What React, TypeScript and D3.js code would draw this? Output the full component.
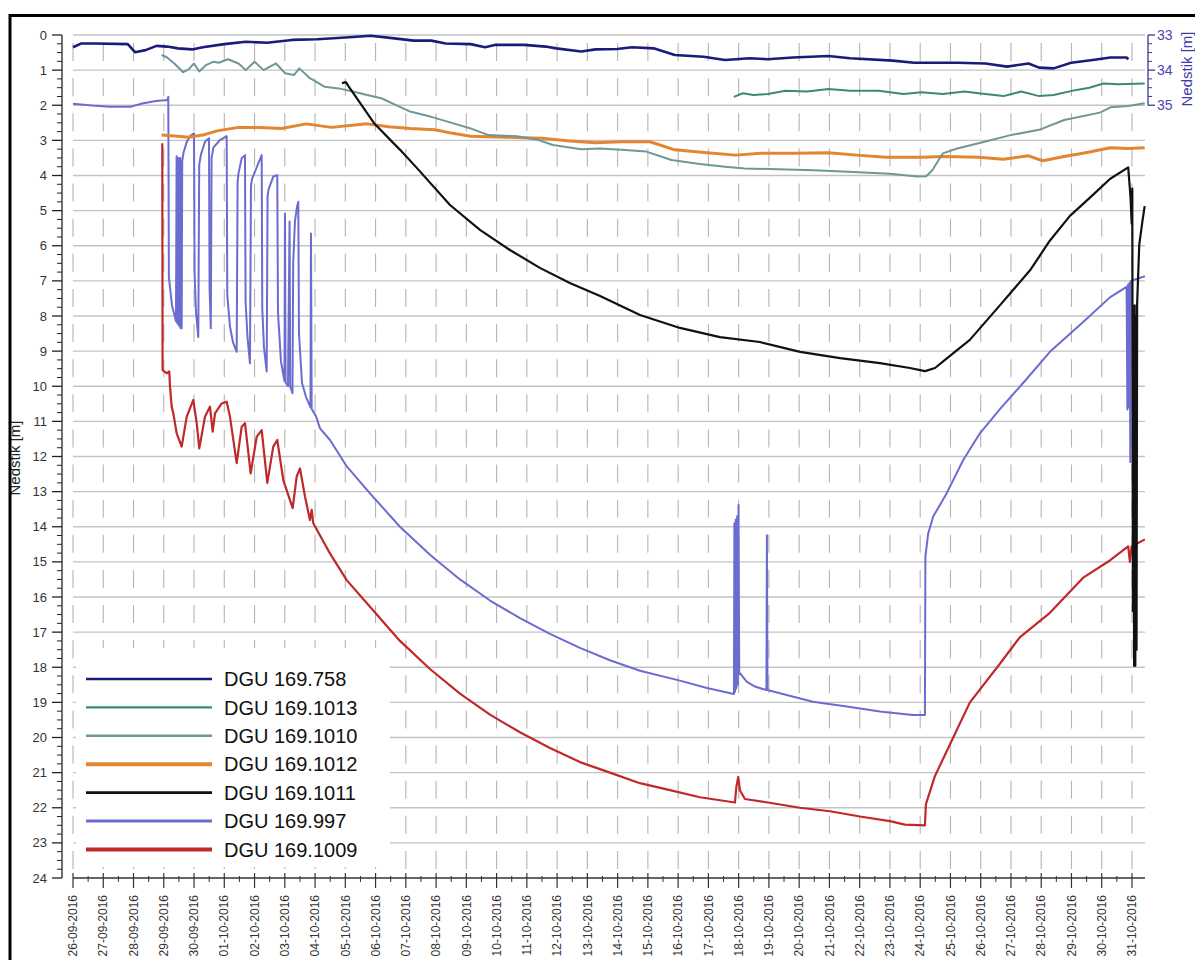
import React from "react";
import * as d3 from "d3";

// [days since 26-09-2016 00:00, value]
type Pt = [number, number];

const START = Date.UTC(2016, 8, 26);
const DAY = 864e5;
const SPAN_DAYS = 35.43;

const yTicks = d3.range(0, 25);
const yRightTicks = [33, 34, 35];

const dgu758: Pt[] = [
  [0, 0.35], [0.28, 0.24], [0.75, 0.24], [1.81, 0.26], [2.05, 0.49], [2.4, 0.43], [2.76, 0.31],
  [3.11, 0.33], [3.47, 0.38], [3.94, 0.41], [4.29, 0.35], [5.0, 0.26], [5.71, 0.19], [6.41, 0.22],
  [7.24, 0.14], [8.07, 0.12], [9.01, 0.07], [9.84, 0.02], [10.55, 0.09], [11.26, 0.16], [11.84, 0.16],
  [12.32, 0.24], [13.14, 0.26], [13.62, 0.35], [13.97, 0.28], [14.91, 0.28], [15.62, 0.33],
  [15.97, 0.38], [16.8, 0.47], [17.27, 0.41], [17.98, 0.4], [18.48, 0.35], [19.19, 0.38],
  [19.89, 0.57], [20.84, 0.62], [21.55, 0.71], [22.37, 0.66], [22.96, 0.69], [23.79, 0.64],
  [24.97, 0.6], [25.68, 0.66], [27.09, 0.73], [27.8, 0.79], [29.22, 0.79], [30.16, 0.81],
  [30.87, 0.9], [31.58, 0.81], [31.93, 0.93], [32.41, 0.95], [32.99, 0.79], [33.7, 0.71],
  [34.29, 0.64], [34.82, 0.64], [34.88, 0.69],
];

// right axis (33-35)
const dgu1013: Pt[] = [
  [21.84, 34.76], [22.14, 34.66], [22.49, 34.71], [22.96, 34.68], [23.55, 34.59], [24.26, 34.61],
  [24.97, 34.54], [25.68, 34.59], [26.62, 34.59], [27.45, 34.68], [28.04, 34.63], [28.75, 34.68],
  [29.46, 34.61], [29.93, 34.66], [30.75, 34.74], [31.34, 34.61], [31.93, 34.74], [32.41, 34.71],
  [33.12, 34.57], [33.59, 34.5], [34.06, 34.38], [34.54, 34.4], [35.42, 34.38],
];

const dgu1010: Pt[] = [
  [2.93, 0.57], [3.11, 0.64], [3.35, 0.81], [3.64, 1.06], [3.82, 0.98], [4.0, 0.81], [4.17, 1.04],
  [4.41, 0.85], [4.65, 0.76], [4.82, 0.79], [5.12, 0.69], [5.47, 0.81], [5.71, 1.0], [6.0, 0.76],
  [6.3, 1.0], [6.71, 0.81], [7.01, 1.09], [7.3, 1.14], [7.48, 0.95], [7.83, 1.23], [8.31, 1.47],
  [8.78, 1.52], [9.25, 1.61], [9.72, 1.71], [10.19, 1.8], [10.66, 1.99], [11.14, 2.18],
  [11.84, 2.33], [12.55, 2.51], [13.14, 2.66], [13.73, 2.85], [14.68, 2.88], [15.39, 2.99],
  [15.86, 3.13], [16.8, 3.25], [17.42, 3.23], [18.12, 3.27], [18.95, 3.32], [19.78, 3.56],
  [20.72, 3.67], [21.55, 3.75], [22.2, 3.8], [23.3, 3.82], [24.5, 3.85], [25.8, 3.9], [27.0, 3.95],
  [27.9, 4.03], [28.2, 4.02], [28.4, 3.85], [28.65, 3.5], [28.75, 3.37], [29.22, 3.23],
  [29.93, 3.08], [30.99, 2.85], [31.93, 2.7], [32.76, 2.42], [33.94, 2.21], [34.29, 2.06],
  [34.88, 2.02], [35.42, 1.94],
];

const dgu1012: Pt[] = [
  [2.93, 2.85], [3.47, 2.88], [3.82, 2.91], [4.29, 2.85], [4.76, 2.73], [5.47, 2.63], [6.18, 2.63],
  [6.89, 2.66], [7.71, 2.53], [8.54, 2.63], [9.72, 2.53], [10.43, 2.61], [11.14, 2.66],
  [11.96, 2.7], [12.55, 2.8], [13.14, 2.88], [14.32, 2.91], [15.5, 2.94], [16.33, 3.01],
  [17.27, 3.07], [18.12, 3.04], [19.07, 3.04], [19.89, 3.27], [20.95, 3.35], [21.9, 3.42],
  [22.72, 3.37], [23.9, 3.37], [24.97, 3.35], [25.91, 3.42], [26.86, 3.48], [28.04, 3.48],
  [28.75, 3.46], [29.93, 3.48], [30.75, 3.54], [31.58, 3.44], [32.05, 3.58], [32.76, 3.46],
  [33.47, 3.35], [34.29, 3.21], [34.88, 3.23], [35.42, 3.21],
];

const dgu1011: Pt[] = [
  [8.89, 1.37], [9.02, 1.34], [9.12, 1.48], [9.95, 2.51], [10.81, 3.27], [11.37, 3.79],
  [12.46, 4.84], [13.45, 5.55], [14.44, 6.12], [15.43, 6.63], [16.42, 7.06], [17.42, 7.43],
  [18.74, 7.97], [20.06, 8.34], [21.38, 8.6], [22.7, 8.74], [24.03, 9.02], [25.35, 9.2],
  [26.67, 9.34], [27.66, 9.48], [28.16, 9.57], [28.49, 9.48], [28.82, 9.25], [29.64, 8.68],
  [30.64, 7.69], [31.63, 6.7], [32.29, 5.85], [32.95, 5.15], [33.71, 4.55], [34.27, 4.1],
  [34.875, 3.77], [34.95, 4.6], [34.99, 5.37], [35.01, 4.37], [35.03, 16.4], [35.05, 8.0],
  [35.07, 17.96], [35.09, 7.7], [35.11, 17.96], [35.13, 8.0], [35.15, 17.5], [35.17, 7.66],
  [35.24, 5.97], [35.35, 5.27], [35.42, 4.87],
];

const dgu997: Pt[] = [
  [0, 1.96], [0.63, 2.01], [1.22, 2.04], [1.92, 2.04], [2.28, 1.95], [2.74, 1.88], [3.123, 1.85],
  [3.149, 1.76], [3.169, 6.9], [3.272, 7.7], [3.404, 8.15], [3.424, 3.45], [3.443, 8.2],
  [3.463, 3.5], [3.483, 8.25], [3.503, 3.5], [3.523, 8.3], [3.543, 3.5], [3.562, 8.35],
  [3.592, 8.35], [3.609, 3.6], [3.652, 3.35], [3.757, 3.05], [3.866, 2.88], [3.999, 2.8],
  [4.019, 6.8], [4.065, 7.9], [4.141, 8.6], [4.171, 3.7], [4.23, 3.4], [4.362, 3.04],
  [4.494, 2.94], [4.514, 7.2], [4.554, 8.35], [4.58, 3.5], [4.643, 3.2], [4.858, 2.99],
  [5.079, 2.88], [5.099, 7.4], [5.188, 8.3], [5.288, 8.75], [5.41, 9.02], [5.44, 4.2],
  [5.469, 3.94], [5.575, 3.51], [5.684, 3.42], [5.704, 7.6], [5.767, 8.6], [5.849, 9.35],
  [5.882, 4.3], [5.915, 4.1], [6.071, 3.77], [6.236, 3.42], [6.256, 7.8], [6.312, 8.9],
  [6.401, 9.58], [6.431, 4.6], [6.461, 4.4], [6.619, 4.03], [6.751, 3.99], [6.775, 7.9],
  [6.874, 9.3], [6.989, 9.85], [7.006, 5.08], [7.026, 9.9], [7.105, 10.0], [7.158, 5.31],
  [7.178, 10.0], [7.254, 10.2], [7.277, 6.5], [7.336, 5.3], [7.403, 4.9], [7.446, 4.75],
  [7.469, 8.5], [7.568, 9.9], [7.7, 10.3], [7.849, 10.6], [7.865, 5.65], [7.888, 10.65],
  [8.03, 10.85], [8.163, 11.2], [8.493, 11.53], [9.055, 12.29], [9.815, 13.05], [10.806, 14.0],
  [11.798, 14.8], [12.789, 15.5], [13.781, 16.1], [14.772, 16.6], [15.763, 17.05],
  [16.755, 17.45], [17.746, 17.8], [18.738, 18.1], [20.059, 18.38], [20.952, 18.59],
  [21.844, 18.76], [21.86, 13.9], [21.884, 18.7], [21.903, 13.8], [21.926, 18.6], [21.95, 13.7],
  [21.973, 18.5], [21.996, 13.38], [22.019, 18.2], [22.042, 18.17], [22.264, 18.41],
  [22.538, 18.55], [22.918, 18.65], [22.934, 14.24], [22.954, 18.65], [23.364, 18.74],
  [24.455, 18.98], [25.578, 19.12], [26.669, 19.26], [27.759, 19.36], [28.156, 19.36],
  [28.172, 14.85], [28.265, 14.19], [28.43, 13.71], [28.873, 13.05], [29.422, 12.1],
  [29.974, 11.34], [30.635, 10.65], [31.46, 9.85], [32.287, 9.02], [33.387, 8.17], [34.27, 7.47],
  [34.822, 7.17], [34.848, 10.66], [34.871, 7.1], [34.898, 10.6], [34.921, 7.05], [34.944, 12.16],
  [34.964, 7.0], [35.426, 6.87],
];

const dgu1009: Pt[] = [
  [2.951, 3.08], [2.961, 9.54], [3.096, 9.63], [3.182, 9.58], [3.206, 10.01], [3.262, 10.58],
  [3.315, 10.77], [3.427, 11.34], [3.592, 11.72], [3.757, 10.87], [3.976, 10.39], [4.088, 11.05],
  [4.174, 11.77], [4.362, 10.87], [4.527, 10.58], [4.617, 11.29], [4.693, 10.77], [4.914, 10.49],
  [5.079, 10.44], [5.188, 10.87], [5.41, 12.19], [5.575, 11.15], [5.684, 11.05], [5.872, 12.48],
  [6.071, 11.44], [6.236, 11.25], [6.421, 12.75], [6.619, 11.72], [6.751, 11.53], [6.95, 12.67],
  [7.26, 13.47], [7.393, 12.57], [7.502, 12.34], [7.667, 13.14], [7.832, 13.81], [7.888, 13.52],
  [7.941, 13.9], [8.493, 14.76], [9.045, 15.52], [9.815, 16.28], [10.806, 17.25], [11.798, 18.05],
  [12.789, 18.75], [13.781, 19.35], [14.772, 19.85], [15.763, 20.3], [16.755, 20.7],
  [17.746, 21.0], [18.738, 21.3], [19.729, 21.5], [20.72, 21.7], [21.877, 21.85], [21.926, 21.4],
  [21.986, 21.12], [22.042, 21.5], [22.207, 21.75], [22.968, 21.85], [24.025, 22.0],
  [25.017, 22.1], [26.008, 22.25], [27.0, 22.38], [27.495, 22.48], [28.156, 22.5], [28.189, 21.9],
  [28.486, 21.1], [28.982, 20.2], [29.643, 19.0], [30.635, 17.9], [31.29, 17.15], [32.287, 16.45],
  [33.387, 15.45], [34.27, 14.96], [34.875, 14.56], [34.931, 15.0], [34.987, 14.56],
  [35.426, 14.36],
];

type Series = { name: string; data: Pt[]; color: string; width: number; lw: number; right?: boolean };

const series: Series[] = [
  { name: "DGU 169.758", data: dgu758, color: "#1b1b7a", width: 2.6, lw: 2.6 },
  { name: "DGU 169.1013", data: dgu1013, color: "#3b8c6b", width: 2, lw: 2.2, right: true },
  { name: "DGU 169.1010", data: dgu1010, color: "#6f9797", width: 2, lw: 2.4 },
  { name: "DGU 169.1012", data: dgu1012, color: "#e2862f", width: 3, lw: 4 },
  { name: "DGU 169.1011", data: dgu1011, color: "#111111", width: 2.2, lw: 2.6 },
  { name: "DGU 169.997", data: dgu997, color: "#6c6cd0", width: 2, lw: 2.8 },
  { name: "DGU 169.1009", data: dgu1009, color: "#c0282a", width: 2.2, lw: 4 },
];

// drawing order (last on top)
const drawOrder = ["DGU 169.1009", "DGU 169.997", "DGU 169.1012", "DGU 169.1010", "DGU 169.1011", "DGU 169.1013", "DGU 169.758"];

const FONT = "'Liberation Sans', Arial, sans-serif";

export default function App() {
  const left = 73, right = 1145, top = 35, bottom = 878;
  const x = d3.scaleUtc()
    .domain([new Date(START), new Date(START + SPAN_DAYS * DAY)])
    .range([left, right]);
  const y = d3.scaleLinear().domain([0, 24]).range([top, bottom]);
  const unit = (bottom - top) / 24;
  const yR = d3.scaleLinear().domain([33, 35]).range([top, top + 2 * unit]);
  const toDate = (d: number) => new Date(START + d * DAY);

  const days = d3.utcDay.range(new Date(START), new Date(START + SPAN_DAYS * DAY));
  const halfDays = d3.utcHour.every(12)!
    .range(new Date(START), new Date(START + SPAN_DAYS * DAY))
    .filter(d => d.getUTCHours() === 12);
  const fmt = d3.utcFormat("%d-%m-%Y");

  const minorY = d3.range(0, 24, 0.25).filter(v => v % 1 !== 0);
  const minorYR = d3.range(33, 35, 0.25).filter(v => v % 1 !== 0);

  const lineFor = (s: Series) =>
    d3.line<Pt>()
      .x(p => x(toDate(p[0])))
      .y(p => (s.right ? yR(p[1]) : y(p[1])))(s.data) || "";

  const legendX0 = 86, legendX1 = 212, legendTop = 679, legendStep = 28.4;

  return (
    <svg width={1195} height={960} style={{ position: "absolute", left: 0, top: 0, background: "#fff" }}
      fontFamily={FONT}>
      <rect x={0} y={0} width={1195} height={960} fill="#fff" />

      {/* horizontal grid */}
      {yTicks.slice(0, -1).map(v => (
        <line key={"hg" + v} x1={left} x2={right} y1={y(v)} y2={y(v)} stroke="#c3c3c3" strokeWidth={1.3} />
      ))}
      {/* vertical dashed grid */}
      {days.map(d => (
        <line key={"vg" + d.getTime()} x1={x(d)} x2={x(d)} y1={top + 8} y2={bottom}
          stroke="#b4b4b4" strokeWidth={1.1} strokeDasharray={`18 ${unit - 18}`} />
      ))}

      {/* series */}
      {drawOrder.map(n => {
        const s = series.find(q => q.name === n)!;
        return (
          <path key={n} d={lineFor(s)} fill="none" stroke={s.color} strokeWidth={s.width}
            strokeLinejoin="round" strokeLinecap="butt" />
        );
      })}

      {/* left axis */}
      <line x1={62} x2={62} y1={top} y2={bottom} stroke="#222" strokeWidth={1.3} />
      {yTicks.map(v => (
        <g key={"yt" + v}>
          <line x1={52} x2={62} y1={y(v)} y2={y(v)} stroke="#222" strokeWidth={1.3} />
          <text x={47} y={y(v)} dy="0.35em" textAnchor="end" fontSize={13} fill="#333">{v}</text>
        </g>
      ))}
      {minorY.map(v => (
        <line key={"ym" + v} x1={57} x2={62} y1={y(v)} y2={y(v)} stroke="#222" strokeWidth={1} />
      ))}
      <text transform={`translate(15, 458) rotate(-90)`} textAnchor="middle"
        dy="0.35em" fontSize={15} fill="#222">Nedstik [m]</text>

      {/* right axis */}
      <line x1={1148} x2={1148} y1={yR(33)} y2={yR(35)} stroke="#3a3a9a" strokeWidth={1.3} />
      {yRightTicks.map(v => (
        <g key={"yr" + v}>
          <line x1={1148} x2={1155} y1={yR(v)} y2={yR(v)} stroke="#3a3a9a" strokeWidth={1.3} />
          <text x={1157} y={yR(v)} dy="0.35em" fontSize={14} fill="#4848b0">{v}</text>
        </g>
      ))}
      {minorYR.map(v => (
        <line key={"yrm" + v} x1={1148} x2={1152} y1={yR(v)} y2={yR(v)} stroke="#3a3a9a" strokeWidth={1} />
      ))}
      <text transform={`translate(1187, 69) rotate(-90)`} textAnchor="middle" dy="0.35em"
        fontSize={15} fill="#3c3ca8">Nedstik [m]</text>

      {/* bottom axis */}
      <line x1={left} x2={right} y1={bottom} y2={bottom} stroke="#333" strokeWidth={1.5} />
      {days.map(d => (
        <g key={"xt" + d.getTime()}>
          <line x1={x(d)} x2={x(d)} y1={bottom - 5} y2={bottom + 10} stroke="#333" strokeWidth={1.2} />
          <text transform={`translate(${x(d)}, ${bottom + 17}) rotate(-90)`} textAnchor="end"
            dy="0.35em" fontSize={12} fill="#333">{fmt(d)}</text>
        </g>
      ))}
      {halfDays.map(d => (
        <line key={"xm" + d.getTime()} x1={x(d)} x2={x(d)} y1={bottom - 2} y2={bottom + 4}
          stroke="#333" strokeWidth={1} />
      ))}

      {/* legend */}
      <rect x={76} y={648} width={314} height={219} fill="#fff" />
      {series.map((s, i) => {
        const ly = legendTop + i * legendStep;
        return (
          <g key={"lg" + s.name}>
            <line x1={legendX0} x2={legendX1} y1={ly} y2={ly} stroke={s.color} strokeWidth={s.lw} />
            <text x={224} y={ly} dy="0.36em" fontSize={20} fill="#111">{s.name}</text>
          </g>
        );
      })}

      {/* outer frame */}
      <rect x={10} y={15.5} width={1200} height={1000} fill="none" stroke="#000" strokeWidth={3} />
    </svg>
  );
}
